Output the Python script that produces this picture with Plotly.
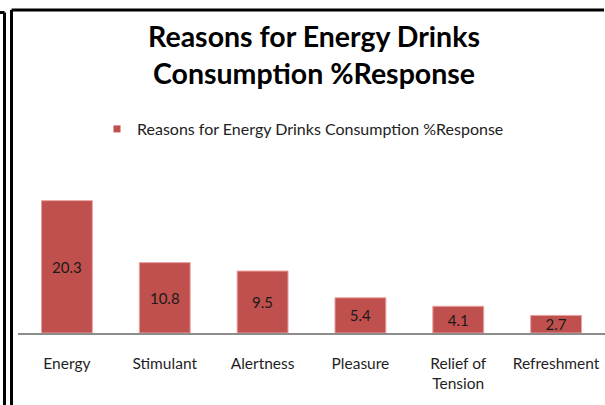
import plotly.graph_objects as go

# Survey results: reasons given for drinking energy drinks (% response)
categories = ["Energy", "Stimulant", "Alertness", "Pleasure", "Relief of<br>Tension", "Refreshment"]
responses = [20.3, 10.8, 9.5, 5.4, 4.1, 2.7]
series_name = "Reasons for Energy Drinks Consumption %Response"

BAR_RED = "#C0504D"

W, H = 605, 405
ML, MR, MT, MB = 18, 0, 170, 72
PW, PH = W - ML - MR, H - MT - MB


def px_x(x):
    return (x - ML) / PW


def px_y(y):
    return (H - MB - y) / PH


fig = go.Figure()
fig.add_trace(
    go.Bar(
        x=categories,
        y=responses,
        name=series_name,
        marker=dict(color=BAR_RED, line=dict(color="#E8A3A1", width=1)),
        text=[f"{v:.1f}" for v in responses],
        textposition="inside",
        insidetextanchor="middle",
        constraintext="none",
        textfont=dict(family="Lato", size=15, color="#1a1a1a"),
        showlegend=False,
        cliponaxis=False,
    )
)
# small square legend key for the series
fig.add_trace(
    go.Scatter(
        x=[None],
        y=[None],
        mode="markers",
        name=series_name,
        marker=dict(symbol="square", size=7, color=BAR_RED),
        showlegend=True,
    )
)

black = dict(color="black", width=3)
shapes = [
    # outer frame of the chart
    dict(type="line", xref="paper", yref="paper", x0=px_x(11.5), x1=px_x(604), y0=px_y(10), y1=px_y(10), line=black),
    dict(type="line", xref="paper", yref="paper", x0=px_x(11.5), x1=px_x(11.5), y0=px_y(10), y1=px_y(406), line=black),
    # edge of the neighbouring frame on the left
    dict(type="line", xref="paper", yref="paper", x0=px_x(-1), x1=px_x(4.5), y0=px_y(12.5), y1=px_y(12.5), line=black),
    dict(type="line", xref="paper", yref="paper", x0=px_x(4.5), x1=px_x(4.5), y0=px_y(12.5), y1=px_y(406), line=black),
]

fig.update_layout(
    width=W,
    height=H,
    margin=dict(l=ML, r=MR, t=MT, b=MB),
    paper_bgcolor="white",
    plot_bgcolor="white",
    bargap=0.48,
    title=dict(
        text="<b>Reasons for Energy Drinks<br>Consumption %Response</b>",
        x=314 / W,
        xanchor="center",
        y=1 - 47 / H,
        yanchor="middle",
        font=dict(family="Lato", size=28.5, color="black"),
    ),
    legend=dict(
        orientation="h",
        x=px_x(303),
        xanchor="center",
        y=px_y(129),
        yanchor="middle",
        font=dict(family="Lato", size=16, color="#222"),
        bgcolor="rgba(0,0,0,0)",
    ),
    shapes=shapes,
    font=dict(family="Lato"),
)

fig.update_xaxes(
    showline=True,
    linecolor="#8c8c8c",
    linewidth=2,
    showgrid=False,
    ticks="",
    ticklabelstandoff=15,
    tickfont=dict(family="Lato", size=15.5, color="#1f1f1f"),
)
fig.update_yaxes(range=[0, 25], visible=False, showgrid=False)

fig.write_html("out.html")
